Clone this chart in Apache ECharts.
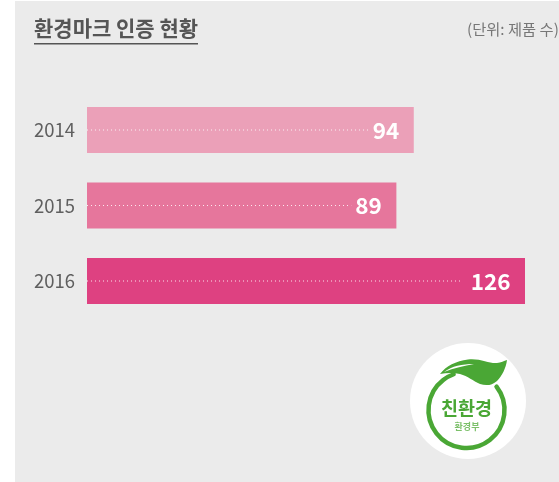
<!DOCTYPE html>
<html><head><meta charset="utf-8">
<style>html,body{margin:0;padding:0;background:#fff}#c{width:559px;height:482px}</style>
<script src="https://cdn.jsdelivr.net/npm/echarts@6/dist/echarts.min.js"></script>
</head><body><div id="c"></div>
<script>
const years = ['2014', '2015', '2016'];
const values = [94, 89, 126];
const barColors = ['#eba0b8', '#e6769c', '#de4181'];
const dotEnds = [81, 76, 108];
const titleText = '환경마크 인증 현황';
const unitText = '(단위: 제품 수)';
const font = '"Noto Sans CJK KR","Noto Sans",sans-serif';
const green = '#4aa735';
echarts.graphic.registerShape('leaf', echarts.graphic.extendPath(
  'M440 374 C446 366 456 361 468 359.5 C480 358 490 364 497 363 C501 362.5 504 361 507 360 C506 368 502 376 497 381 C492 385.5 486 386 480 384 C473 381 468 376 460 374 C453 372.5 446 373 440 374 Z', {}));
echarts.graphic.registerShape('leafLight', echarts.graphic.extendPath(
  'M444 372 C452 366 462 364 474 364 C464 366 454 368 444 372 Z', {}));
const chart = echarts.init(document.getElementById('c'), null, {renderer: 'canvas'});
chart.setOption({
  animation: false,
  backgroundColor: '#ffffff',
  title: {
    text: titleText, left: 34, top: 18, padding: 0,
    textStyle: {fontFamily: font, fontSize: 21, fontWeight: 'bold', color: '#555555'}
  },
  grid: {left: 87, top: 92.25, width: 438, height: 226.5},
  xAxis: {type: 'value', min: 0, max: 126, show: false},
  yAxis: {
    type: 'category', data: years, inverse: true,
    axisLine: {show: false}, axisTick: {show: false}, splitLine: {show: false},
    axisLabel: {fontFamily: font, fontSize: 18.5, color: '#5f5f5f', margin: 12}
  },
  series: [
    {
      type: 'bar', data: values.map((v, i) => ({value: v, itemStyle: {color: barColors[i]}})),
      barWidth: 46, z: 2,
      label: {show: true, position: 'insideRight', distance: 14.5, color: '#fff',
        fontFamily: font, fontSize: 22.5, fontWeight: 'bold'}
    },
    {
      type: 'custom', z: 3, silent: true,
      data: dotEnds.map((v, i) => [v, i]),
      encode: {x: 0, y: 1},
      renderItem: (p, api) => {
        const a = api.coord([0, api.value(1)]), b = api.coord([api.value(0), api.value(1)]);
        return {type: 'line', shape: {x1: a[0], y1: a[1], x2: b[0], y2: b[1]},
          style: {stroke: 'rgba(255,255,255,0.85)', lineWidth: 1, lineDash: [1, 3]}};
      }
    }
  ],
  graphic: {elements: [
    {type: 'rect', z: -10, shape: {x: 15, y: 1, width: 544, height: 481}, style: {fill: '#ebebeb'}},
    {type: 'rect', z: 5, shape: {x: 34, y: 43, width: 164, height: 1.5}, style: {fill: '#555555'}},
    {type: 'text', z: 5, style: {x: 467, y: 29, text: unitText, fill: '#777777',
      font: '15.3px ' + font, textVerticalAlign: 'middle'}},
    {type: 'circle', z: 5, shape: {cx: 468, cy: 401, r: 58}, style: {fill: '#ffffff'}},
    {type: 'arc', z: 6, shape: {cx: 466.5, cy: 410, r: 38, startAngle: -Math.PI * 0.21, endAngle: -Math.PI * 0.61, clockwise: true},
      style: {stroke: green, lineWidth: 4.5, fill: null, lineCap: 'round'}},
    {type: 'leaf', z: 7, style: {fill: green}},
    {type: 'leafLight', z: 8, style: {fill: '#ffffff'}},
    {type: 'text', z: 7, style: {x: 466.5, y: 408, text: '친환경', fill: green,
      font: 'bold 18.5px ' + font, textAlign: 'center', textVerticalAlign: 'middle'}},
    {type: 'text', z: 7, style: {x: 467, y: 427, text: '환경부', fill: '#7cc06a',
      font: 'bold 9px ' + font, textAlign: 'center', textVerticalAlign: 'middle'}}
  ]}
});
</script></body></html>
